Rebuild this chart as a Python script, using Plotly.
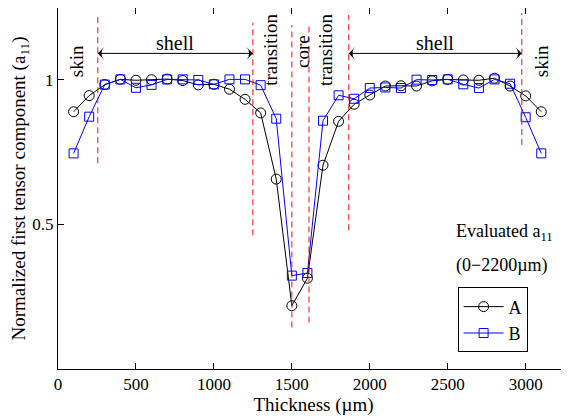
import plotly.graph_objects as go

# ---- data ----
thickness = [100, 200, 300, 400, 500, 600, 700, 800, 900, 1000, 1100, 1200, 1300, 1400, 1500,
             1600, 1700, 1800, 1900, 2000, 2100, 2200, 2300, 2400, 2500, 2600, 2700, 2800, 2900, 3000, 3100]
series_a = [0.890, 0.946, 0.984, 1.002, 0.999, 1.001, 1.003, 0.998, 0.983, 0.985, 0.968, 0.933, 0.886, 0.657, 0.219,
            0.314, 0.705, 0.857, 0.916, 0.948, 0.979, 0.980, 0.979, 0.997, 1.002, 1.000, 0.999, 1.006, 0.979, 0.945, 0.890]
series_b = [0.746, 0.873, 0.984, 1.002, 0.973, 0.983, 1.002, 1.002, 1.000, 0.985, 1.002, 1.002, 0.982, 0.866, 0.323,
            0.332, 0.859, 0.947, 0.935, 0.972, 0.974, 0.972, 1.001, 1.000, 1.002, 0.985, 0.972, 1.002, 0.987, 0.871, 0.746]

x_ticks = [0, 500, 1000, 1500, 2000, 2500, 3000]
y_ticks = [0.5, 1]
y_tick_labels = ["0.5", "1"]

# region boundaries (dashed lines): x position, bottom, top
boundary_x = [255, 1250, 1500, 1610, 1865, 2975]
boundary_y0 = [0.712, 0.463, 0.144, 0.161, 0.480, 0.775]
boundary_y1 = [1.225, 1.198, 1.190, 1.190, 1.225, 1.232]

# region labels
region_text = ["skin", "transition", "core", "transition", "skin"]
region_x = [120, 1366, 1565, 1719, 3103]
region_y = [1.064, 1.104, 1.100, 1.104, 1.064]

# shell arrows
shell_text = ["shell", "shell"]
shell_x0 = [255, 1865]
shell_x1 = [1250, 2975]
shell_y = [1.092, 1.092]
shell_label_y = 1.127

FONT = "Liberation Serif"

fig = go.Figure()
fig.add_trace(go.Scatter(x=thickness, y=series_a, name="A", mode="lines+markers",
                         line=dict(color="black", width=1),
                         marker=dict(symbol="circle-open", size=10, color="black", line=dict(width=1))))
fig.add_trace(go.Scatter(x=thickness, y=series_b, name="B", mode="lines+markers",
                         line=dict(color="#0000ff", width=1),
                         marker=dict(symbol="square-open", size=9, color="#0000ff", line=dict(width=1))))

for bx, y0, y1 in zip(boundary_x, boundary_y0, boundary_y1):
    fig.add_shape(type="line", xref="x", yref="y", x0=bx, x1=bx, y0=y0, y1=y1,
                  line=dict(color="rgba(255,0,0,0.8)", width=1.2, dash="6px,4px"))

for t, x, y in zip(region_text, region_x, region_y):
    fig.add_annotation(x=x, y=y, xref="x", yref="y", text=t, showarrow=False, textangle=-90,
                       font=dict(family=FONT, size=19, color="black"))

for t, x0, x1, y in zip(shell_text, shell_x0, shell_x1, shell_y):
    fig.add_trace(go.Scatter(x=[x0, x1], y=[y, y], mode="lines+markers", showlegend=False,
                             hoverinfo="skip", line=dict(color="black", width=1),
                             marker=dict(symbol="arrow-wide", size=9, angle=[-90, 90], color="black",
                                         line=dict(width=0))))
    fig.add_annotation(x=(x0 + x1) / 2, y=shell_label_y, xref="x", yref="y", text=t, showarrow=False,
                       font=dict(family=FONT, size=20, color="black"))

fig.add_annotation(x=0.775, y=0.377, xref="paper", yref="paper", xanchor="left", yanchor="middle",
                   text="Evaluated a<sub>11</sub>", showarrow=False,
                   font=dict(family=FONT, size=18, color="black"))
fig.add_annotation(x=0.775, y=0.288, xref="paper", yref="paper", xanchor="left", yanchor="middle",
                   text="(0\u22122200\u00b5m)", showarrow=False,
                   font=dict(family=FONT, size=18, color="black"))

fig.update_layout(
    width=569, height=419,
    margin=dict(l=50, r=8, t=0, b=58),
    paper_bgcolor="white", plot_bgcolor="white",
    font=dict(family=FONT, size=17, color="black"),
    showlegend=True,
    legend=dict(x=0.782, y=0.226, xanchor="left", yanchor="top",
                bordercolor="black", borderwidth=1, bgcolor="white",
                font=dict(family=FONT, size=18), itemwidth=40, tracegroupgap=0),
)
fig.update_xaxes(range=[0, 3278], tickvals=x_ticks,
                 ticks="inside", ticklen=6, tickcolor="black", mirror="ticks",
                 showline=True, linecolor="black", linewidth=1, showgrid=False, zeroline=False,
                 title=dict(text="Thickness (\u00b5m)", standoff=2, font=dict(family=FONT, size=19)))
fig.update_yaxes(range=[0, 1.249], tickvals=y_ticks, ticktext=y_tick_labels,
                 ticks="inside", ticklen=6, tickcolor="black", mirror="ticks",
                 showline=True, linecolor="black", linewidth=1, showgrid=False, zeroline=False,
                 title=dict(text="Normalized first tensor component (a<sub>11</sub>)", standoff=6,
                            font=dict(family=FONT, size=19)))

fig.write_html("out.html")
